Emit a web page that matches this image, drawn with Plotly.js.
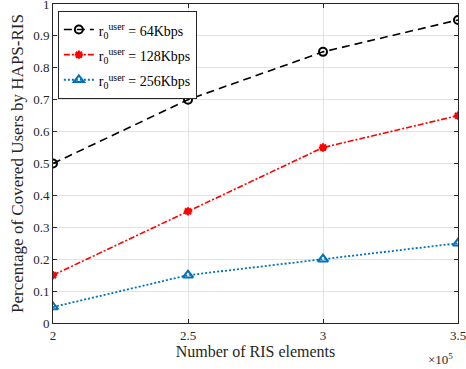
<!DOCTYPE html>
<html><head><meta charset="utf-8">
<script src="https://cdn.plot.ly/plotly-3.0.1.min.js"></script>
<style>html,body{margin:0;padding:0;background:#fff}#c{width:466px;height:369px}</style>
</head><body><div id="c"></div>
<script>
const risElements = [2, 2.5, 3, 3.5];
const cov64 = [0.5, 0.7, 0.85, 0.95];
const cov128 = [0.15, 0.35, 0.55, 0.65];
const cov256 = [0.05, 0.15, 0.2, 0.25];
const rateLabels = ['64Kbps', '128Kbps', '256Kbps'];
const xTicks = [2, 2.5, 3, 3.5];
const yTicks = [0, 0.1, 0.2, 0.3, 0.4, 0.5, 0.6, 0.7, 0.8, 0.9, 1];

const font = 'Liberation Serif, Times New Roman, serif';
const nm = r => '<span style="font-size:14px">r<sub>0</sub><sup>user</sup> = ' + r + '</span>';
const traces = [
  {x: risElements, y: cov64, name: nm(rateLabels[0]), mode: 'lines+markers',
   line: {color: '#000000', dash: '8px,5px', width: 1.6},
   marker: {symbol: 'circle-open', size: 8, color: '#000000', line: {width: 2}}},
  {x: risElements, y: cov128, name: nm(rateLabels[1]), mode: 'lines+markers',
   line: {color: '#ff0000', dash: '6px,2px,2px,2px', width: 1.6},
   marker: {symbol: 'asterisk-open', size: 7, color: '#ff0000', line: {width: 2.2, color: '#ff0000'}}},
  {x: risElements, y: cov256, name: nm(rateLabels[2]), mode: 'lines+markers',
   line: {color: '#0072bd', dash: '2px,2px', width: 1.8},
   marker: {symbol: 'triangle-up-open', size: 9, color: '#0072bd', line: {width: 2}}}
];
const axCommon = {showline: true, linecolor: '#262626', linewidth: 1, mirror: 'ticks',
  ticks: 'inside', ticklen: 4, tickcolor: '#262626', showgrid: true, gridcolor: '#e3e3e3',
  zeroline: false, ticklabeloverflow: 'allow', tickfont: {family: font, size: 13, color: '#262626'}};
const layout = {
  width: 466, height: 369, margin: {l: 53, r: 8, t: 4, b: 46},
  paper_bgcolor: '#fff', plot_bgcolor: '#fff', font: {family: font, color: '#262626'},
  xaxis: Object.assign({}, axCommon, {range: [2, 3.5], tickvals: xTicks, ticktext: xTicks.map(String),
    title: {text: 'Number of RIS elements', font: {family: font, size: 16, color: '#262626'}, standoff: 3}}),
  yaxis: Object.assign({}, axCommon, {range: [0, 1], tickvals: yTicks, ticktext: yTicks.map(String),
    title: {text: 'Percentage of Covered Users by HAPS-RIS', font: {family: font, size: 17, color: '#262626'}, standoff: 5}}),
  legend: {x: 0.012, y: 0.978, xanchor: 'left', yanchor: 'top', bgcolor: '#fff',
    bordercolor: '#262626', borderwidth: 1, font: {family: font, size: 17, color: '#000'},
    tracegroupgap: 0, itemwidth: 30},
  annotations: [{xref: 'paper', yref: 'paper', x: 0.993, y: -0.08, xanchor: 'right', yanchor: 'top',
    text: '×10<sup>5</sup>', showarrow: false, font: {family: font, size: 13, color: '#262626'}}],
  showlegend: true
};
Plotly.newPlot('c', traces, layout, {displayModeBar: false, staticPlot: true});
</script></body></html>
